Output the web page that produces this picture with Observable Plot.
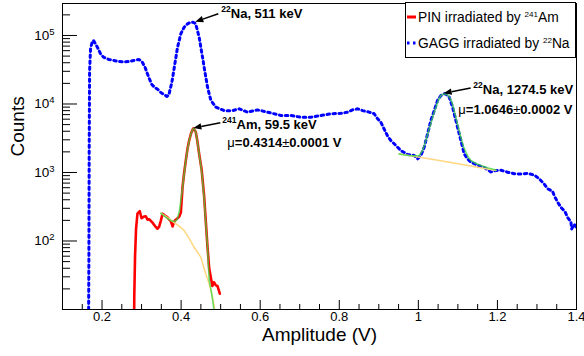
<!DOCTYPE html>
<html><head><meta charset="utf-8">
<script src="https://cdn.jsdelivr.net/npm/d3@7"></script>
<script src="https://cdn.jsdelivr.net/npm/@observablehq/plot@0.6"></script>
<style>body{margin:0;background:#fff;} svg{display:block}</style>
</head><body><div id="chart"></div>
<script>
// ---- data ----
const gagg = [
[0.1655,2],[0.1668,60],[0.1675,2000],[0.1685,3.0e4],[0.1710,6.5e4],[0.1750,8.0e4],[0.1784,8.45e4],
[0.1885,6.7e4],[0.1969,5.3e4],[0.2045,4.8e4],[0.2171,4.47e4],[0.2298,4.32e4],[0.2424,4.17e4],
[0.2551,4.10e4],[0.2677,4.17e4],[0.2804,4.32e4],[0.2930,4.47e4],[0.3006,4.2e4],[0.3082,3.5e4],
[0.3183,2.44e4],[0.3259,1.93e4],[0.3335,1.74e4],[0.3411,1.63e4],[0.3487,1.47e4],[0.3563,1.38e4],
[0.3639,1.29e4],[0.3690,1.35e4],[0.3715,1.57e4],[0.3765,2.06e4],[0.3823,3.3e4],[0.3909,6.7e4],
[0.3993,1.06e5],[0.4076,1.32e5],[0.4162,1.48e5],[0.4230,1.55e5],[0.4289,1.56e5],[0.4340,1.53e5],
[0.4372,1.45e5],[0.4456,9.5e4],[0.4499,6.7e4],[0.4542,4.8e4],[0.4582,3.44e4],[0.4625,2.46e4],
[0.4668,1.76e4],[0.4752,1.13e4],[0.4878,9.0e3],[0.5088,8.0e3],[0.5301,8.0e3],[0.5468,8.5e3],
[0.5680,7.6e3],[0.5933,8.2e3],[0.6186,7.6e3],[0.6522,6.8e3],[0.6775,6.8e3],[0.7028,6.4e3],
[0.7281,6.4e3],[0.7534,6.8e3],[0.7787,7.2e3],[0.8040,7.3e3],[0.8210,7.6e3],[0.8336,8.2e3],
[0.8463,8.5e3],[0.8589,8.0e3],[0.8756,7.6e3],[0.8883,7.2e3],[0.8969,6.1e3],[0.9052,5.4e3],
[0.9136,4.3e3],[0.9222,3.4e3],[0.9305,2.93e3],[0.9432,2.48e3],[0.9558,2.09e3],[0.9728,1.83e3],
[0.9895,1.77e3],[0.9981,1.58e3],[1.0064,1.77e3],[1.0148,2.34e3],[1.0234,3.67e3],[1.0317,5.74e3],
[1.0401,8.0e3],[1.0486,1.13e4],[1.0570,1.33e4],[1.0653,1.41e4],[1.0696,1.40e4],[1.0780,1.26e4],
[1.0866,9.0e3],[1.0949,5.74e3],[1.1033,3.67e3],[1.1119,2.34e3],[1.1160,1.87e3],[1.1245,1.58e3],
[1.1329,1.42e3],[1.1498,1.28e3],[1.1665,1.18e3],[1.1835,1.02e3],[1.1961,1.07e3],[1.2088,1.08e3],
[1.2257,1.01e3],[1.2424,960],[1.2594,950],[1.2763,970],[1.2930,920],[1.3057,810],[1.3183,680],
[1.3269,580],[1.3396,530],[1.3436,460],[1.3522,370],[1.3606,310],[1.3707,270],[1.3775,220],
[1.3859,190],[1.3877,150],[1.3942,175],[1.3990,160]
];
const pin = [
[0.2806,2],[0.2815,15],[0.2835,60],[0.2860,150],[0.2896,250],[0.2955,272],[0.3000,215],
[0.3050,225],[0.3107,230],[0.3150,205],[0.3191,208],[0.3240,195],[0.3277,185],[0.3340,165],
[0.3403,151],[0.3445,162],[0.3490,200],[0.3530,250],[0.3590,235],[0.3656,222],[0.3700,205],
[0.3739,195],[0.3783,163],[0.3830,195],[0.3866,205],[0.3950,225],[0.3993,260],[0.4036,610],
[0.4078,1000],[0.4119,1500],[0.4161,2200],[0.4203,2930],[0.4250,3700],[0.4289,4200],[0.4310,4390],
[0.4340,4200],[0.4372,3870],[0.4410,2900],[0.4456,1870],[0.4519,1100],[0.4582,450],[0.4625,190],
[0.4668,81],[0.4710,40],[0.4752,29],[0.4790,22],[0.4830,25],[0.4880,22.5],[0.4920,22],
[0.4960,18.5],[0.4979,17]
];
const amFit = [
[0.3487,255],[0.3570,232],[0.3656,213],[0.3740,198],[0.3825,192],[0.3900,205],[0.3960,280],
[0.4036,600],[0.4078,960],[0.4119,1500],[0.4161,2150],[0.4203,2900],[0.4250,3700],[0.4289,4200],
[0.4314,4380],[0.4340,4250],[0.4372,3850],[0.4410,2900],[0.4456,1870],[0.4519,1050],[0.4582,420],
[0.4625,180],[0.4668,81],[0.4709,27],[0.4752,20],[0.4795,14],[0.4840,9]
];
const amBkg = [
[0.3487,255],[0.3650,222],[0.3825,185],[0.3950,165],[0.4076,142],[0.4200,110],[0.4329,81],
[0.4420,68],[0.4499,58],[0.4570,42],[0.4625,33],[0.4709,23.7],[0.4752,19],[0.4795,15],
[0.4837,11],[0.4870,8]
];
const naFit = [
[0.9515,1870],[0.9640,1800],[0.9768,1770],[0.9900,1750],[1.0021,1770],[1.0106,2090],[1.0190,2930],
[1.0250,3900],[1.0317,5190],[1.0380,7000],[1.0444,8980],[1.0510,1.15e4],[1.0570,1.33e4],
[1.0653,1.41e4],[1.0738,1.36e4],[1.0800,1.22e4],[1.0839,1.10e4],[1.0900,8.3e3],[1.0949,6.4e3],
[1.1010,4.6e3],[1.1075,3.28e3],[1.1140,2.4e3],[1.1202,1.98e3],[1.1270,1.65e3],[1.1329,1.50e3],
[1.1450,1.36e3],[1.1582,1.27e3],[1.1770,1.16e3],[1.1961,1.09e3]
];
const naBkg = [[0.9515,1870],[1.0570,1480],[1.1961,1070]];

const xMajorTicks = [0.2,0.4,0.6,0.8,1.0,1.2,1.4];
const xTickLabels = ["0.2","0.4","0.6","0.8","1","1.2","1.4"];
const xMinorTicks = [0.15,0.25,0.3,0.35,0.45,0.5,0.55,0.65,0.7,0.75,0.85,0.9,0.95,1.05,1.1,1.15,1.25,1.3,1.35];
const yMajorTicks = [100,1000,10000,100000];
const yTickLabels = ["10^2","10^3","10^4","10^5"];
const yMinorTicks = [20,30,40,50,60,70,80,90,200,300,400,500,600,700,800,900,
  2000,3000,4000,5000,6000,7000,8000,9000,2e4,3e4,4e4,5e4,6e4,7e4,8e4,9e4,2e5];

const peakX = [0.4372, 0.4322, 1.0653];
const peakY = [1.56e5, 4390, 1.41e4];
const peakLine1 = [
  [{t:"22",s:1},{t:"Na, 511 keV"}],
  [{t:"241",s:1},{t:"Am, 59.5 keV"}],
  [{t:"22",s:1},{t:"Na, 1274.5 keV"}]
];
const peakLine2 = [
  null,
  [{t:"\u03bc",n:1},{t:"=0.4314"},{t:"\u00b1",n:1},{t:"0.0001 V"}],
  [{t:"\u03bc",n:1},{t:"=1.0646"},{t:"\u00b1",n:1},{t:"0.0002 V"}]
];
const legendLabels = [
  [{t:"PIN irradiated by "},{t:"241",s:1},{t:"Am"}],
  [{t:"GAGG irradiated by "},{t:"22",s:1},{t:"Na"}]
];

// ---- layout / style ----
const FONT = "'Liberation Sans', Arial, Helvetica, sans-serif";
const W = 584, H = 356, ML = 62, MR = 8, MT = 3, MB = 47;
const PW = W - ML - MR, PH = H - MT - MB;
const BLUE = "#0000ff", RED = "#ff0000", GREEN = "#3fd63f", YELLOW = "#ffd780";
// pixel offsets of arrow tails / label lines relative to each arrow tip
const arrowTail = [[23,-8],[27,-5.3],[27,-5.3]];
const line1Pos = [[26,-3.7],[29,1.5],[29.7,1.2]];
const line2Pos = [null,[34,19.5],[14.7,21.2]];

function rich(sel, parts, size, supSize, raise, weight) {
  let shift = 0;
  for (const p of parts) {
    const target = p.s ? -raise : 0;
    sel.append("tspan").attr("dy", target - shift).attr("font-size", p.s ? supSize : size)
      .attr("font-weight", p.n ? "normal" : weight).text(p.t);
    shift = target;
  }
}

function annotations(index, scales) {
  const g = d3.create("svg:g").attr("font-family", FONT).attr("text-anchor", "start");
  peakX.forEach((px, i) => {
    const tx = scales.x(px), ty = scales.y(peakY[i]);
    const sx = tx + arrowTail[i][0], sy = ty + arrowTail[i][1];
    const dx = tx - sx, dy = ty - sy, L = Math.hypot(dx, dy), ux = dx / L, uy = dy / L;
    const bx = tx - ux * 8, by = ty - uy * 8;
    g.append("line").attr("x1", sx).attr("y1", sy).attr("x2", bx).attr("y2", by)
      .attr("stroke", "#000").attr("stroke-width", 1.5);
    g.append("path").attr("d", `M${tx},${ty}L${bx - uy * 3.2},${by + ux * 3.2}L${bx + uy * 3.2},${by - ux * 3.2}Z`)
      .attr("fill", "#000");
    const t1 = g.append("text").attr("x", tx + line1Pos[i][0]).attr("y", ty + line1Pos[i][1]).attr("fill", "#000");
    rich(t1, peakLine1[i], 13, 8.5, 6, "bold");
    if (peakLine2[i]) {
      const t2 = g.append("text").attr("x", tx + line2Pos[i][0]).attr("y", ty + line2Pos[i][1]).attr("fill", "#000");
      rich(t2, peakLine2[i], 13, 8.5, 6, "bold");
    }
  });
  return g.node();
}

function legend() {
  const g = d3.create("svg:g").attr("font-family", FONT).attr("text-anchor", "start");
  g.append("rect").attr("x", 405.5).attr("y", 2.5).attr("width", 170).attr("height", 55)
    .attr("fill", "#fff").attr("stroke", "#000").attr("stroke-width", 1);
  g.append("line").attr("x1", 407).attr("x2", 416).attr("y1", 17).attr("y2", 17)
    .attr("stroke", RED).attr("stroke-width", 3);
  g.append("line").attr("x1", 407).attr("x2", 417).attr("y1", 43).attr("y2", 43)
    .attr("stroke", BLUE).attr("stroke-width", 3).attr("stroke-dasharray", "2.5,3.5");
  const ys = [22, 48];
  legendLabels.forEach((parts, i) => {
    const t = g.append("text").attr("x", 418).attr("y", ys[i]).attr("fill", "#000");
    rich(t, parts, 13.8, 8, 5, "normal");
  });
  return g.node();
}

const xy = {x: d => d[0], y: d => d[1]};

const chart = Plot.plot({
  width: W, height: H,
  marginLeft: ML, marginRight: MR, marginTop: MT, marginBottom: MB,
  style: {fontFamily: FONT, background: "#fff", color: "#000"},
  x: {domain: [0.1, 1.4]},
  y: {type: "log", domain: [10, 2.93e5]},
  marks: [
    Plot.line(gagg, {...xy, stroke: BLUE, strokeWidth: 3, strokeDasharray: "2.5,3.5", clip: true}),
    Plot.line(pin, {...xy, stroke: RED, strokeWidth: 2.6, clip: true}),
    Plot.line(amBkg, {...xy, stroke: YELLOW, strokeWidth: 1.5, clip: true}),
    Plot.line(naBkg, {...xy, stroke: YELLOW, strokeWidth: 1.5, clip: true}),
    Plot.line(amFit, {...xy, stroke: GREEN, strokeWidth: 1.6, strokeOpacity: 0.75, clip: true}),
    Plot.line(naFit, {...xy, stroke: GREEN, strokeWidth: 1.6, strokeOpacity: 0.75, clip: true}),
    Plot.ruleX(xMajorTicks, {x: d => d, insetTop: PH - 9, stroke: "#000"}),
    Plot.ruleX(xMinorTicks, {x: d => d, insetTop: PH - 5, stroke: "#000"}),
    Plot.ruleY(yMajorTicks, {y: d => d, insetRight: PW - 15, stroke: "#000"}),
    Plot.ruleY(yMinorTicks, {y: d => d, insetRight: PW - 8, stroke: "#000"}),
    Plot.frame({stroke: "#000", strokeWidth: 1}),
    Plot.axisX(xMajorTicks, {tickSize: 0, tickPadding: 2, fontSize: 13, label: null,
      tickFormat: d => xTickLabels[xMajorTicks.indexOf(d)]}),
    Plot.axisY(yMajorTicks, {tickSize: 0, tickPadding: 8, fontSize: 13.5, label: null,
      tickFormat: d => yTickLabels[yMajorTicks.indexOf(d)]}),
    Plot.text(["Counts"], {frameAnchor: "left", dx: -45, rotate: -90, fontSize: 19, text: d => d}),
    Plot.text(["Amplitude (V)"], {frameAnchor: "bottom", dy: 31, fontSize: 19, text: d => d}),
    annotations,
    legend
  ]
});

// superscript exponents in the y tick labels
d3.select(chart).selectAll('g[aria-label="y-axis tick label"] text').each(function () {
  const [b, e] = this.textContent.split("^");
  this.textContent = "";
  const s = d3.select(this);
  s.append("tspan").text(b);
  s.append("tspan").attr("dy", -5).attr("font-size", 9.5).text(e);
});

document.getElementById("chart").appendChild(chart);
</script>
</body></html>
